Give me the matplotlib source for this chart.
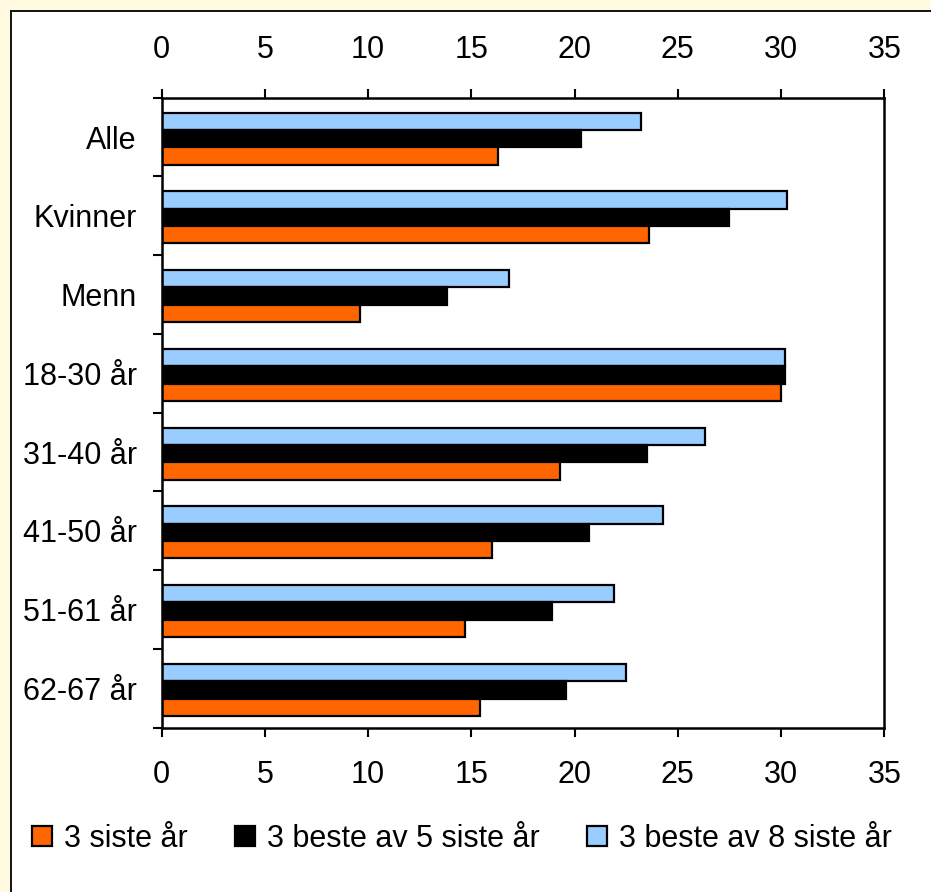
import matplotlib
matplotlib.use('Agg')
import matplotlib.pyplot as plt
from matplotlib.patches import Rectangle
from matplotlib.ticker import FixedLocator
import numpy as np

plt.rcParams['font.family'] = ['Liberation Sans', 'DejaVu Sans']

categories = ['Alle', 'Kvinner', 'Menn', '18-30 år', '31-40 år', '41-50 år', '51-61 år', '62-67 år']
siste3 = [16.3, 23.6, 9.6, 30.0, 19.3, 16.0, 14.7, 15.4]
beste5av5 = [20.3, 27.5, 13.8, 30.2, 23.5, 20.7, 18.9, 19.6]
beste3av8 = [23.2, 30.3, 16.8, 30.2, 26.3, 24.3, 21.9, 22.5]
series_labels = ['3 siste år', '3 beste av 5 siste år', '3 beste av 8 siste år']
xticks = [0, 5, 10, 15, 20, 25, 30, 35]

W, H = 931, 892
fig = plt.figure(figsize=(W / 100, H / 100), dpi=100, facecolor='#FFFAE1')
fig.patches.append(Rectangle((11 / W, -0.1), 1.2, 1 - 11 / H + 0.1,
                             transform=fig.transFigure, facecolor='white',
                             edgecolor='black', linewidth=1.3, zorder=-5))

x0, x1 = 161.7, 884.3
yt, yb = 97.7, 727.7
ax = fig.add_axes([x0 / W, 1 - yb / H, (x1 - x0) / W, (yb - yt) / H])
ax.set_zorder(2)
ax.set_facecolor('white')

y = np.arange(len(categories)) + 0.02
h = 0.22
lw = 1.6
b8 = ax.barh(y - h, beste3av8, height=h, color='#99CCFF', edgecolor='black', linewidth=lw, label=series_labels[2])
b5 = ax.barh(y, beste5av5, height=h, color='black', edgecolor='black', linewidth=lw, label=series_labels[1])
b3 = ax.barh(y + h, siste3, height=h, color='#FF6600', edgecolor='black', linewidth=lw, label=series_labels[0])

ax.set_xlim(0, 35)
ax.set_ylim(len(categories) - 0.5, -0.5)
ax.set_xticks(xticks)
ax.set_xticklabels([str(t) for t in xticks])
ax.tick_params(axis='x', which='major', top=True, labeltop=True, bottom=True, labelbottom=True,
               direction='out', length=6.5, width=1.5, pad=17, labelsize=22, colors='black')
ax.set_yticks(np.arange(len(categories)))
ax.set_yticklabels(categories)
ax.yaxis.set_minor_locator(FixedLocator(np.arange(-0.5, len(categories), 1.0)))
ax.tick_params(axis='y', which='major', length=0, pad=18, labelsize=22)
ax.tick_params(axis='y', which='minor', length=6.5, width=1.5, direction='out')
for s in ax.spines.values():
    s.set_linewidth(1.8)
    s.set_color('black')

fig.legend([b3, b5, b8], series_labels, loc='center', bbox_to_anchor=(462 / W, 1 - 839 / H),
           ncol=3, frameon=False, fontsize=22, handlelength=0.65, handleheight=0.65,
           handletextpad=0.4, columnspacing=1.55, borderaxespad=0, borderpad=0)

fig.savefig('out.png', dpi=100, facecolor=fig.get_facecolor())
